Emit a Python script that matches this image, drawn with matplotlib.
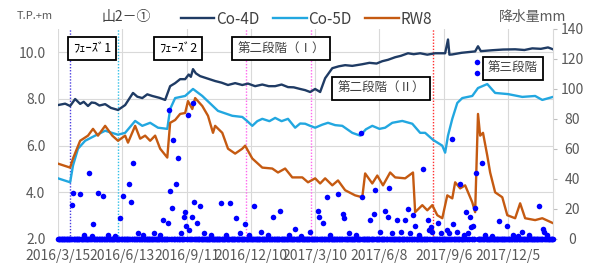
import matplotlib.pyplot as plt
import pandas as pd

plt.rcParams['font.family'] = ['Noto Sans CJK JP', 'DejaVu Sans']

# Co-4D water level (T.P.+m)
co4d_dates = ['2016-03-15', '2016-03-25', '2016-04-01', '2016-04-08', '2016-04-15', '2016-04-20', '2016-04-26',
              '2016-05-01', '2016-05-06', '2016-05-12', '2016-05-20', '2016-05-28', '2016-06-07', '2016-06-17',
              '2016-06-28', '2016-07-04', '2016-07-11', '2016-07-18', '2016-07-25', '2016-08-04', '2016-08-12',
              '2016-08-19', '2016-08-26', '2016-09-02', '2016-09-09', '2016-09-14', '2016-09-17', '2016-09-20',
              '2016-09-24', '2016-09-30', '2016-10-10', '2016-10-21', '2016-10-30', '2016-11-08', '2016-11-18',
              '2016-11-28', '2016-12-06', '2016-12-16', '2016-12-26', '2017-01-04', '2017-01-13', '2017-01-22',
              '2017-01-31', '2017-02-08', '2017-02-17', '2017-02-24', '2017-03-03', '2017-03-10', '2017-03-17',
              '2017-03-24', '2017-04-03', '2017-04-12', '2017-04-21', '2017-05-01', '2017-05-15', '2017-05-25',
              '2017-06-04', '2017-06-12', '2017-06-20', '2017-06-30', '2017-07-08', '2017-07-18', '2017-07-26',
              '2017-08-04', '2017-08-14', '2017-08-25', '2017-09-08', '2017-09-12', '2017-09-14', '2017-09-18',
              '2017-10-01', '2017-10-20', '2017-10-24', '2017-10-28', '2017-11-13', '2017-11-28', '2017-12-15',
              '2017-12-28', '2018-01-08', '2018-01-20', '2018-01-30', '2018-02-06']
co4d_level = [7.74, 7.80, 7.70, 8.00, 7.79, 7.88, 7.70,
              7.85, 7.83, 7.72, 7.78, 7.62, 7.53, 7.74,
              8.26, 8.10, 8.04, 8.20, 8.13, 8.05, 7.96,
              8.55, 8.68, 8.85, 8.85, 9.05, 8.95, 9.28,
              9.10, 8.98, 8.88, 8.77, 8.70, 8.60, 8.68,
              8.60, 8.66, 8.55, 8.62, 8.55, 8.55, 8.62,
              8.51, 8.50, 8.43, 8.38, 8.30, 8.43, 8.30,
              8.89, 9.32, 9.40, 9.45, 9.42, 9.49, 9.55,
              9.52, 9.62, 9.68, 9.79, 9.85, 9.96, 9.92,
              9.96, 9.90, 9.96, 9.96, 10.55, 9.90, 9.91,
              9.98, 10.04, 10.26, 10.05, 10.09, 10.12, 10.13,
              10.10, 10.17, 10.15, 10.21, 10.13]

# Co-5D water level
co5d_dates = ['2016-03-15', '2016-04-01', '2016-04-05', '2016-04-12', '2016-04-22', '2016-05-06', '2016-05-20',
              '2016-06-07', '2016-06-17', '2016-07-01', '2016-07-11', '2016-07-22', '2016-08-02', '2016-08-15',
              '2016-08-19', '2016-08-26', '2016-09-09', '2016-09-20', '2016-10-03', '2016-10-25', '2016-11-14',
              '2016-11-28', '2016-12-05', '2016-12-12', '2016-12-19', '2016-12-26', '2017-01-05', '2017-01-13',
              '2017-01-22', '2017-01-31', '2017-02-10', '2017-02-17', '2017-02-24', '2017-03-03', '2017-03-10',
              '2017-03-20', '2017-03-28', '2017-04-07', '2017-04-17', '2017-05-01', '2017-05-12', '2017-05-20',
              '2017-05-29', '2017-06-08', '2017-06-16', '2017-06-26', '2017-07-10', '2017-07-24', '2017-08-04',
              '2017-08-11', '2017-08-22', '2017-09-04', '2017-09-08', '2017-09-12', '2017-09-18', '2017-09-25',
              '2017-10-02', '2017-10-16', '2017-10-24', '2017-11-06', '2017-11-17', '2017-12-05', '2017-12-25',
              '2018-01-12', '2018-01-22', '2018-02-06']
co5d_level = [4.60, 4.43, 5.15, 5.87, 6.21, 6.43, 6.64,
              6.47, 6.55, 7.06, 6.85, 6.98, 6.77, 6.72,
              7.57, 8.04, 8.13, 8.43, 8.13, 7.49, 7.28,
              7.23, 7.05, 6.85, 7.05, 7.15, 7.05, 7.19,
              7.05, 7.15, 6.77, 6.95, 6.94, 6.85, 6.77,
              6.90, 6.98, 6.88, 6.85, 6.55, 6.43, 6.70,
              6.85, 6.72, 6.77, 6.98, 7.06, 6.94, 6.55,
              6.55, 6.25, 6.00, 5.70, 6.43, 7.15, 7.83,
              8.04, 8.13, 8.47, 8.64, 8.26, 8.21, 8.09,
              8.13, 7.96, 8.09]

# RW8 water level
rw8_dates = ['2016-03-15', '2016-04-01', '2016-04-05', '2016-04-15', '2016-04-26', '2016-05-03', '2016-05-10',
             '2016-05-20', '2016-05-30', '2016-06-07', '2016-06-17', '2016-06-21', '2016-07-01', '2016-07-08',
             '2016-07-15', '2016-07-22', '2016-07-29', '2016-08-05', '2016-08-15', '2016-08-19', '2016-08-26',
             '2016-09-02', '2016-09-09', '2016-09-13', '2016-09-19', '2016-09-23', '2016-10-03', '2016-10-11',
             '2016-10-18', '2016-10-21', '2016-10-31', '2016-11-08', '2016-11-18', '2016-11-28', '2016-12-02',
             '2016-12-12', '2016-12-26', '2017-01-09', '2017-01-17', '2017-01-27', '2017-02-06', '2017-02-20',
             '2017-02-28', '2017-03-10', '2017-03-17', '2017-03-24', '2017-04-03', '2017-04-11', '2017-04-21',
             '2017-05-05', '2017-05-15', '2017-05-19', '2017-05-29', '2017-06-05', '2017-06-13', '2017-06-23',
             '2017-06-30', '2017-07-14', '2017-07-25', '2017-07-28', '2017-08-07', '2017-08-14', '2017-08-21',
             '2017-08-28', '2017-09-04', '2017-09-11', '2017-09-18', '2017-09-22', '2017-09-29', '2017-10-06',
             '2017-10-16', '2017-10-20', '2017-10-24', '2017-10-27', '2017-10-31', '2017-11-06', '2017-11-10',
             '2017-11-17', '2017-11-27', '2017-12-04', '2017-12-15', '2017-12-22', '2017-12-29', '2018-01-12',
             '2018-01-22', '2018-02-06']
rw8_level = [5.23, 5.06, 5.45, 6.21, 6.43, 6.72, 6.43,
             6.85, 6.43, 6.21, 6.43, 6.13, 6.85, 6.30,
             6.43, 6.21, 6.43, 5.87, 5.49, 6.98, 7.10,
             7.36, 7.40, 7.91, 7.57, 8.04, 7.70, 7.28,
             6.55, 6.85, 6.55, 5.87, 5.66, 5.87, 6.00,
             5.45, 5.06, 5.02, 4.85, 5.02, 4.64, 4.64,
             4.43, 4.60, 4.38, 4.60, 4.30, 4.51, 4.09,
             3.87, 3.79, 4.81, 4.38, 4.72, 4.30, 4.85,
             4.64, 4.60, 4.85, 3.15, 3.45, 3.23, 3.45,
             3.02, 2.89, 3.87, 3.74, 4.43, 4.17, 4.30,
             3.57, 3.15, 7.36, 6.43, 6.55, 5.57, 4.85,
             4.00, 3.79, 3.02, 2.89, 3.53, 2.89, 2.81,
             2.89, 2.68]

# rainfall (mm), days not listed had no rain
rain_dates = ['2016-04-04', '2016-04-05', '2016-04-15', '2016-04-20', '2016-04-27', '2016-05-02', '2016-05-03',
              '2016-05-10', '2016-05-17', '2016-05-24', '2016-06-03', '2016-06-10', '2016-06-14', '2016-06-22',
              '2016-06-25', '2016-06-28', '2016-07-05', '2016-07-12', '2016-07-28', '2016-08-05', '2016-08-09',
              '2016-08-16', '2016-08-18', '2016-08-19', '2016-08-22', '2016-08-23', '2016-08-27', '2016-08-30',
              '2016-09-03', '2016-09-07', '2016-09-09', '2016-09-10', '2016-09-13', '2016-09-15', '2016-09-19',
              '2016-09-20', '2016-09-21', '2016-09-26', '2016-09-30', '2016-10-06', '2016-10-15', '2016-10-29',
              '2016-11-05', '2016-11-11', '2016-11-19', '2016-11-25', '2016-12-02', '2016-12-08', '2016-12-14',
              '2016-12-24', '2017-01-03', '2017-01-10', '2017-01-20', '2017-02-01', '2017-02-10', '2017-02-18',
              '2017-03-03', '2017-03-14', '2017-03-15', '2017-03-21', '2017-03-27', '2017-03-31', '2017-04-11',
              '2017-04-18', '2017-04-19', '2017-04-26', '2017-05-06', '2017-05-13', '2017-05-15', '2017-05-26',
              '2017-05-31', '2017-06-02', '2017-06-09', '2017-06-16', '2017-06-20', '2017-06-21', '2017-06-26',
              '2017-07-03', '2017-07-08', '2017-07-14', '2017-07-18', '2017-07-21', '2017-07-25', '2017-07-28',
              '2017-08-03', '2017-08-08', '2017-08-15', '2017-08-16', '2017-08-19', '2017-08-21', '2017-08-29',
              '2017-09-02', '2017-09-11', '2017-09-14', '2017-09-18', '2017-09-19', '2017-09-24', '2017-09-29',
              '2017-10-04', '2017-10-07', '2017-10-10', '2017-10-13', '2017-10-14', '2017-10-17', '2017-10-20',
              '2017-10-21', '2017-10-22', '2017-10-23', '2017-10-30', '2017-11-03', '2017-11-12', '2017-11-22',
              '2017-12-04', '2017-12-12', '2017-12-19', '2017-12-25', '2018-01-04', '2018-01-17', '2018-01-23',
              '2018-01-24', '2018-01-28']
rain_mm = [23, 31, 30, 3, 44, 2, 10,
           31, 29, 3, 2, 14, 29, 37,
           25, 51, 4, 3, 4, 3, 13,
           11, 86, 32, 21, 66, 37, 54,
           4, 15, 18, 9, 83, 6, 15,
           91, 25, 11, 22, 4, 3, 24,
           3, 24, 14, 4, 10, 3, 22,
           5, 3, 15, 19, 3, 7, 2,
           5, 19, 15, 11, 28, 3, 30,
           17, 14, 4, 3, 71, 28, 13,
           17, 33, 5, 19, 15, 34, 4,
           13, 5, 13, 20, 4, 16, 9,
           3, 47, 13, 6, 8, 5, 11,
           4, 6, 4, 67, 10, 5, 37,
           3, 18, 4, 15, 8, 9, 21,
           44, 111, 118, 51, 3, 2, 12,
           9, 3, 2, 5, 3, 22, 7,
           5, 3]

tick_dates = ['2016-03-15', '2016-06-13', '2016-09-11', '2016-12-10',
              '2017-03-10', '2017-06-08', '2017-09-06', '2017-12-05']
tick_labels = ['2016/3/15', '2016/6/13', '2016/9/11', '2016/12/10',
               '2017/3/10', '2017/6/8', '2017/9/6', '2017/12/5']

phase_dates = ['2016-04-01', '2016-06-07', '2016-12-03', '2017-03-04', '2017-08-22']
phase_colors = ['#4a3ee0', '#30c0e8', '#ff66ee', '#ff66ee', '#ff3030']

start, end = pd.Timestamp('2016-03-15'), pd.Timestamp('2018-02-06')
rain = pd.Series(0.0, index=pd.date_range(start, end))
rain[pd.to_datetime(rain_dates)] = rain_mm

fig = plt.figure(figsize=(5.89, 2.65), dpi=100)
ax = fig.add_axes([58 / 589, 26 / 265, 495 / 589, 210 / 265])
ax2 = ax.twinx()

for d, c in zip(phase_dates, phase_colors):
    ax.axvline(pd.Timestamp(d), color=c, lw=1.0, ls=(0, (1, 1.2)), zorder=1)

l1, = ax.plot(pd.to_datetime(co4d_dates), co4d_level, color='#1f3b64', lw=1.7, zorder=3)
l2, = ax.plot(pd.to_datetime(co5d_dates), co5d_level, color='#22a7e0', lw=1.7, zorder=3)
l3, = ax.plot(pd.to_datetime(rw8_dates), rw8_level, color='#c55a11', lw=1.7, zorder=3)

ax2.scatter(rain.index, rain.values, s=16, color='#0000ff', linewidths=0, clip_on=False, zorder=4)

ax.set_xlim(start, end)
ax.set_ylim(2, 11)
ax.set_yticks([2, 4, 6, 8, 10])
ax.set_yticklabels(['2.0', '4.0', '6.0', '8.0', '10.0'])
ax.set_xticks(pd.to_datetime(tick_dates))
ax.set_xticklabels(tick_labels)
ax.grid(True, color='#d9d9d9', lw=0.8)
ax.set_axisbelow(True)
ax.tick_params(axis='both', length=0, labelsize=10, colors='#595959')
ax.tick_params(axis='x', pad=7)
ax.tick_params(axis='y', pad=9)
for s in ax.spines.values():
    s.set_visible(False)

ax2.set_ylim(0, 140)
ax2.set_yticks(range(0, 141, 20))
ax2.tick_params(axis='y', length=3, color='#bfbfbf', labelsize=10, labelcolor='#595959', pad=11)
for lab in ax2.get_yticklabels():
    lab.set_horizontalalignment('center')
for k, s in ax2.spines.items():
    s.set_visible(k == 'right')
ax2.spines['right'].set_color('#d9d9d9')

box = dict(boxstyle='square,pad=0.4', fc='white', ec='black', lw=1.3)
ax2.text(0.069, 0.905, 'ﾌｪｰｽﾞ1', transform=ax2.transAxes, ha='center', va='center', fontsize=9, bbox=box, zorder=10)
ax2.text(0.242, 0.905, 'ﾌｪｰｽﾞ2', transform=ax2.transAxes, ha='center', va='center', fontsize=9, bbox=box, zorder=10)
ax2.text(0.451, 0.905, '第二段階（Ⅰ）', transform=ax2.transAxes, ha='center', va='center', fontsize=9, bbox=box,
         color='#404040', zorder=10)
ax2.text(0.653, 0.719, '第二段階（Ⅱ）', transform=ax2.transAxes, ha='center', va='center', fontsize=9, bbox=box,
         color='#404040', zorder=10)
ax2.text(0.919, 0.814, '第三段階', transform=ax2.transAxes, ha='center', va='center', fontsize=9, bbox=box,
         color='#404040', zorder=10)

fig.legend([l1, l2, l3], ['Co-4D', 'Co-5D', 'RW8'], loc='center', bbox_to_anchor=(0.52, 0.928), ncol=3,
           frameon=False, fontsize=11, handlelength=2.2, handletextpad=0.1, columnspacing=0.9,
           labelcolor='#404040')
fig.text(0.059, 0.94, 'T.P.+m', ha='center', va='center', fontsize=8, color='#595959')
fig.text(0.214, 0.936, '山2－①', ha='center', va='center', fontsize=10, color='#404040')
fig.text(0.905, 0.935, '降水量mm', ha='center', va='center', fontsize=10, color='#595959')

fig.savefig('out.png', dpi=100)
